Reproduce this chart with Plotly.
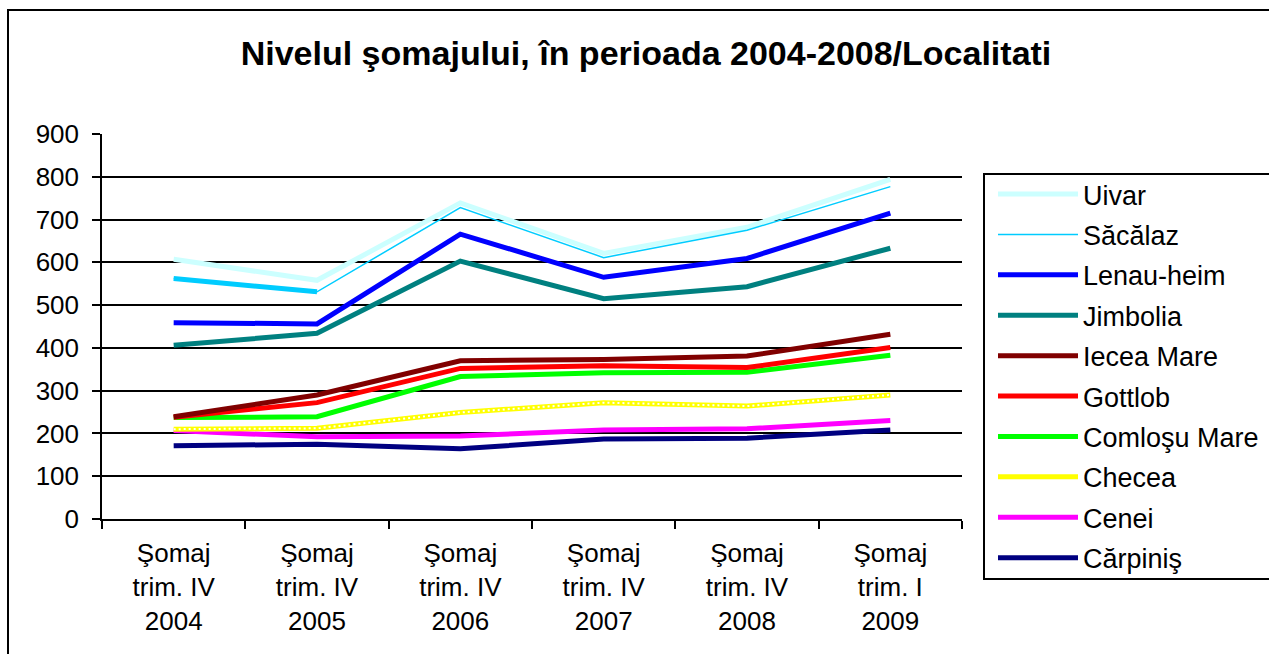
import plotly.graph_objects as go

categories = ["Şomaj<br>trim. IV<br>2004", "Şomaj<br>trim. IV<br>2005", "Şomaj<br>trim. IV<br>2006",
              "Şomaj<br>trim. IV<br>2007", "Şomaj<br>trim. IV<br>2008", "Şomaj<br>trim. I<br>2009"]

uivar = [607, 558, 739, 621, 682, 794]
sacalaz = [562, 531, 728, 611, 675, 777]
lenauheim = [459, 456, 666, 565, 609, 715]
jimbolia = [406, 434, 603, 515, 543, 633]
iecea_mare = [239, 290, 370, 373, 381, 432]
gottlob = [238, 272, 352, 358, 354, 401]
comlosu_mare = [237, 239, 333, 342, 343, 383]
checea = [210, 212, 249, 272, 264, 290]
cenei = [207, 192, 194, 208, 211, 230]
carpinis = [171, 175, 164, 187, 189, 208]

y_ticks = [0, 100, 200, 300, 400, 500, 600, 700, 800, 900]

FONT = "Liberation Sans, Arial, sans-serif"

fig = go.Figure()

def add(name, y, color, width, rank, dash=None):
    fig.add_trace(go.Scatter(
        x=categories, y=y, mode="lines", name=name,
        line=dict(color=color, width=width, dash=dash),
        legendgroup=name, legendrank=rank, hoverinfo="skip"))

# draw order (bottom to top)
add("Cărpiniş", carpinis, "#000080", 5, 10)
add("Cenei", cenei, "#FF00FF", 5, 9)
add("Checea", checea, "#FFFF00", 5, 8)
fig.add_trace(go.Scatter(x=categories, y=checea, mode="lines", showlegend=False,
                         legendgroup="Checea",
                         line=dict(color="white", width=2, dash="2px,3px"), hoverinfo="skip"))
add("Comloşu Mare", comlosu_mare, "#00FF00", 5, 7)
add("Gottlob", gottlob, "#FF0000", 5, 6)
add("Iecea Mare", iecea_mare, "#800000", 5, 5)
add("Jimbolia", jimbolia, "#008080", 5, 4)
add("Lenau-heim", lenauheim, "#0000FF", 5, 3)
add("Uivar", uivar, "#CCFFFF", 5, 1)
fig.add_trace(go.Scatter(x=categories[:2], y=sacalaz[:2], mode="lines", showlegend=False,
                         legendgroup="Săcălaz",
                         line=dict(color="#00CCFF", width=5), hoverinfo="skip"))
add("Săcălaz", sacalaz, "#00CCFF", 1.5, 2)

W, H = 1269, 654
L, R = 102, 962          # plot area left/right (px)
PT, PB = 10, 644         # paper area top/bottom (px)
AT, AB = 134, 519        # y-axis top/bottom (px)
pw, ph = R - L, PB - PT

def px_x(x):
    return (x - L) / pw

def px_y(y):
    return (PB - y) / ph

fig.update_layout(
    width=W, height=H,
    margin=dict(l=L, r=W - R, t=PT, b=H - PB, autoexpand=False),
    paper_bgcolor="white", plot_bgcolor="white",
    font=dict(family=FONT, color="black", size=26),
    title=dict(text="<b>Nivelul şomajului, în perioada 2004-2008/Localitati</b>",
               font=dict(size=34, family=FONT, color="black"),
               x=646 / W, xref="container", xanchor="center",
               y=1 - 53 / H, yref="container", yanchor="middle"),
    xaxis=dict(type="category", range=[-0.5, 5.5], tickson="boundaries", automargin=False,
               showgrid=False, showline=True, linecolor="black", linewidth=1.5,
               ticks="outside", ticklen=8, tickwidth=1.5, tickcolor="black",
               ticklabelstandoff=10,
               tickfont=dict(size=26, family=FONT, color="black"), zeroline=False),
    yaxis=dict(range=[0, 900], tickvals=y_ticks, ticktext=[str(v) for v in y_ticks],
               domain=[px_y(AB), px_y(AT)], automargin=False,
               showgrid=True, gridcolor="black", gridwidth=1.5,
               showline=True, linecolor="black", linewidth=1.5,
               ticks="outside", ticklen=8, tickwidth=1.5, tickcolor="black",
               ticklabelstandoff=8,
               tickfont=dict(size=26, family=FONT, color="black"), zeroline=False),
    legend=dict(x=px_x(993), y=px_y(170), xanchor="left", yanchor="top",
                bgcolor="rgba(0,0,0,0)", borderwidth=0,
                font=dict(size=27, family=FONT, color="black"),
                itemwidth=80, tracegroupgap=2.3, traceorder="grouped"),
    shapes=[
        dict(type="rect", xref="paper", yref="paper",
             x0=px_x(8), x1=px_x(1290), y0=px_y(10), y1=px_y(680),
             line=dict(color="black", width=2), fillcolor="rgba(0,0,0,0)", layer="below"),
        dict(type="rect", xref="paper", yref="paper",
             x0=px_x(984), x1=px_x(1290), y0=px_y(174), y1=px_y(579),
             line=dict(color="black", width=2), fillcolor="rgba(0,0,0,0)", layer="below"),
    ],
)

fig.write_html("out.html", config={"displayModeBar": False},
               post_script="document.body.style.margin='0';document.body.style.overflow='hidden';")
